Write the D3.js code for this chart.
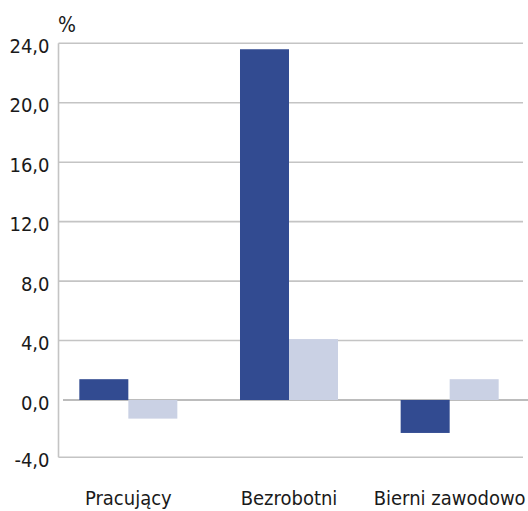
<!DOCTYPE html>
<html lang="pl">
<head>
    <meta charset="UTF-8">
    <title>Zmiany</title>
    <script src="https://cdn.jsdelivr.net/npm/d3@7"></script>
    <style>
        body {
            margin: 0;
            padding: 0;
            background: #ffffff;
        }

        text {
            font-family: "DejaVu Sans Condensed", "DejaVu Sans", sans-serif;
            font-stretch: condensed;
            fill: #1a1a1a;
        }

        .y-axis text {
            font-size: 20px;
        }

        .x-label {
            font-size: 20px;
            text-anchor: middle;
        }
    </style>
</head>
<body>
    <div id="chart"></div>

    <script>
        // data
        var categories = ["Pracujący", "Bezrobotni", "Bierni zawodowo"];
        var seriesDark = [1.4, 23.6, -2.3];
        var seriesLight = [-1.3, 4.1, 1.4];
        var yTicks = [-4, 0, 4, 8, 12, 16, 20, 24];

        var width = 528, height = 511;
        var axisX = 58.5;

        var svg = d3.select("#chart")
            .append("svg")
            .attr("width", width)
            .attr("height", height);

        // the source spaces the negative part a little tighter
        var y = d3.scaleLinear().domain([-4, 0, 24]).range([457.3, 400, 43.3]);

        var x = d3.scaleBand()
            .domain(categories)
            .range([48, 530])
            .paddingInner(0.39)
            .paddingOuter(0.195);

        var xSub = d3.scaleBand()
            .domain(["dark", "light"])
            .range([0, x.bandwidth()]);

        // polish style: comma decimal, plain hyphen for minus
        var fmt = function(v) { return d3.format(".1f")(v).replace(".", ",").replace("\u2212", "-"); };

        // gridlines
        svg.append("g")
            .selectAll("line")
            .data(yTicks)
            .join("line")
            .attr("x1", d => d === 0 ? 63 : axisX)
            .attr("x2", d => d === 0 ? 528 : 523)
            .attr("y1", d => y(d))
            .attr("y2", d => y(d))
            .attr("stroke", d => d === 0 ? "#a6a6a6" : "#c4c4c4")
            .attr("stroke-width", 1.6);

        // vertical axis line
        svg.append("line")
            .attr("x1", axisX).attr("x2", axisX)
            .attr("y1", y(24)).attr("y2", y(-4))
            .attr("stroke", "#c4c4c4")
            .attr("stroke-width", 1.6);

        // tick labels
        var yAxis = svg.append("g")
            .attr("class", "y-axis")
            .attr("transform", "translate(" + axisX + ",0)")
            .call(d3.axisLeft(y).tickValues(yTicks).tickFormat(fmt).tickSize(0).tickPadding(9));
        yAxis.select(".domain").remove();
        yAxis.selectAll("text").attr("dy", "0.45em");

        // bars
        var rows = categories.map((c, i) => ({ cat: c, dark: seriesDark[i], light: seriesLight[i] }));
        var colors = { dark: "#324b91", light: "#cad1e4" };

        svg.append("g")
            .selectAll("g")
            .data(rows)
            .join("g")
            .attr("transform", d => "translate(" + x(d.cat) + ",0)")
            .selectAll("rect")
            .data(d => ["dark", "light"].map(k => ({ key: k, value: d[k] })))
            .join("rect")
            .attr("x", d => xSub(d.key))
            .attr("width", xSub.bandwidth())
            .attr("y", d => y(Math.max(0, d.value)))
            .attr("height", d => Math.abs(y(d.value) - y(0)))
            .attr("fill", d => colors[d.key]);

        // category labels
        svg.append("g")
            .selectAll("text")
            .data(categories)
            .join("text")
            .attr("class", "x-label")
            .attr("x", d => x(d) + x.bandwidth() / 2)
            .attr("y", 505)
            .text(d => d);

        // unit
        svg.append("text")
            .attr("x", 58)
            .attr("y", 32)
            .style("font-size", "21px")
            .text("%");
    </script>
</body>
</html>
